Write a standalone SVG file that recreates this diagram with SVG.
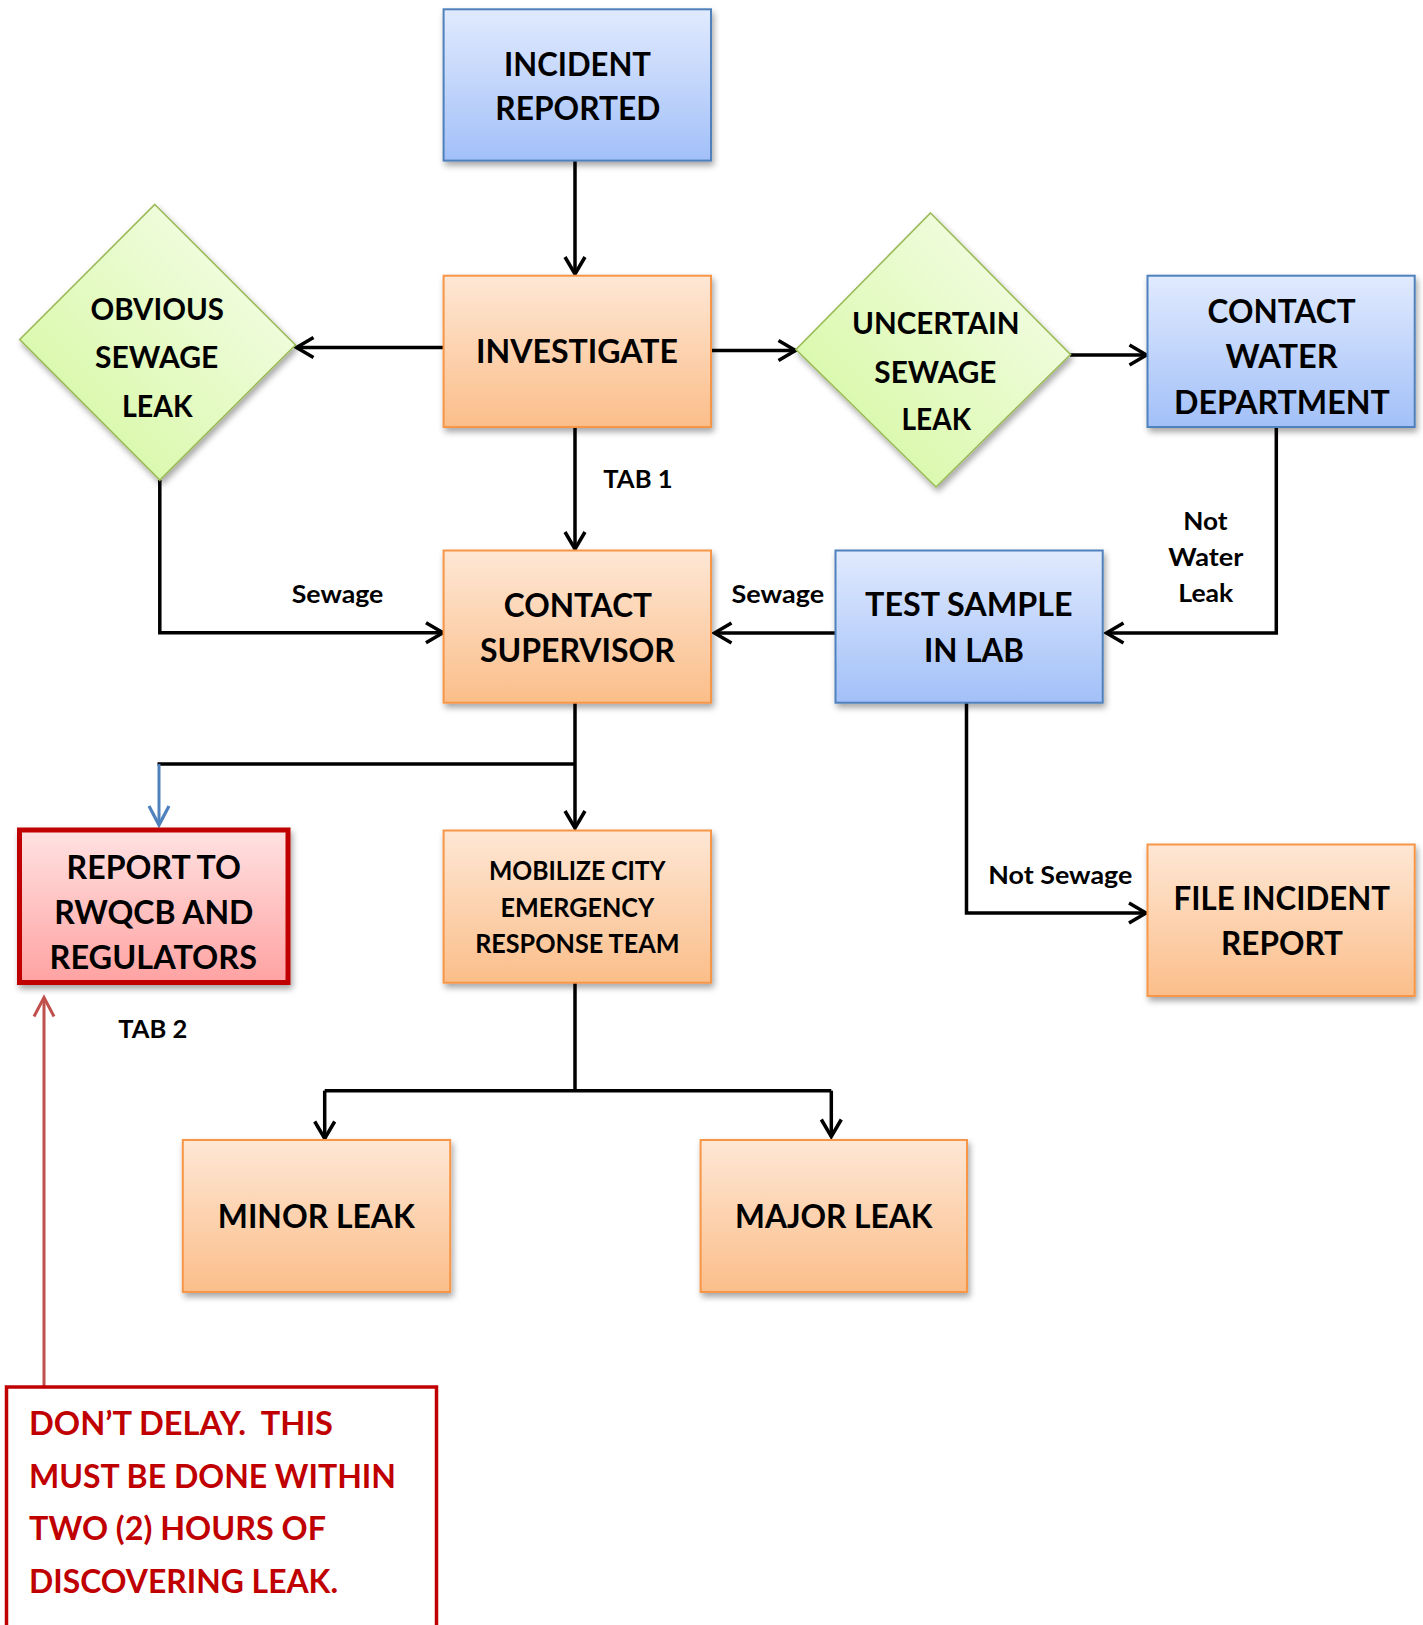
<svg xmlns="http://www.w3.org/2000/svg" width="1423" height="1625" viewBox="0 0 1423 1625">
<defs>
<linearGradient id="gBlue" x1="0" y1="0" x2="0" y2="1"><stop offset="0" stop-color="#e1eafe"/><stop offset="1" stop-color="#a2c0f8"/></linearGradient>
<linearGradient id="gOrange" x1="0" y1="0" x2="0" y2="1"><stop offset="0" stop-color="#fee7d5"/><stop offset="1" stop-color="#fbbe8a"/></linearGradient>
<linearGradient id="gGreen" x1="1" y1="0" x2="0" y2="1"><stop offset="0" stop-color="#f8fef0"/><stop offset="1" stop-color="#d2f79a"/></linearGradient>
<linearGradient id="gRed" x1="0" y1="0" x2="0" y2="1"><stop offset="0" stop-color="#ffe2e2"/><stop offset="1" stop-color="#ffa2a2"/></linearGradient>
<filter id="shadow" x="-10%" y="-10%" width="125%" height="130%"><feDropShadow dx="2" dy="4" stdDeviation="3" flood-color="#000" flood-opacity="0.35"/></filter>
<marker id="aBlack" viewBox="-22 -13 26 26" refX="0" refY="0" markerWidth="26" markerHeight="26" markerUnits="userSpaceOnUse" orient="auto"><path d="M-17,-10 L0,0 L-17,10" fill="none" stroke="#000" stroke-width="3.5"/></marker>
<marker id="aBlue" viewBox="-22 -13 26 26" refX="0" refY="0" markerWidth="26" markerHeight="26" markerUnits="userSpaceOnUse" orient="auto"><path d="M-19,-10 L0,0 L-19,10" fill="none" stroke="#4f81bd" stroke-width="3.2"/></marker>
<marker id="aRed" viewBox="-22 -13 26 26" refX="0" refY="0" markerWidth="26" markerHeight="26" markerUnits="userSpaceOnUse" orient="auto"><path d="M-19,-10 L0,0 L-19,10" fill="none" stroke="#c0504d" stroke-width="3"/></marker>
</defs>
<style>
.blue{fill:url(#gBlue);stroke:#4f81bd;stroke-width:2;filter:url(#shadow)}
.orange{fill:url(#gOrange);stroke:#f79646;stroke-width:2;filter:url(#shadow)}
.green{fill:url(#gGreen);stroke:#9bbb59;stroke-width:1.6;filter:url(#shadow)}
.redbox{fill:url(#gRed);stroke:#c00000;stroke-width:5;filter:url(#shadow)}
text{font-family:Lato,"Open Sans","Liberation Sans",sans-serif;font-weight:700;fill:#000}
.big{font-size:33px;text-anchor:middle}
.dia{font-size:30.5px;text-anchor:middle}
.mid{font-size:26px;text-anchor:middle}
.small{font-size:24.5px}
.warn{font-size:32.5px;fill:#c00000}
.c{fill:none;stroke:#000;stroke-width:3.5}
</style>

<g id="connectors">
<path class="c" d="M575 161 V274" marker-end="url(#aBlack)"/>
<path class="c" d="M443.6 347.5 H296.5" marker-end="url(#aBlack)"/>
<path class="c" d="M711 350.5 H795.5" marker-end="url(#aBlack)"/>
<path class="c" d="M1070 355 H1146.5" marker-end="url(#aBlack)"/>
<path class="c" d="M1276.3 427.5 V633 H1106.5" marker-end="url(#aBlack)"/>
<path class="c" d="M835 633 H714.5" marker-end="url(#aBlack)"/>
<path class="c" d="M159.8 480 V632.8 H443" marker-end="url(#aBlack)"/>
<path class="c" d="M575 427 V549" marker-end="url(#aBlack)"/>
<path class="c" d="M575 702.7 V828" marker-end="url(#aBlack)"/>
<path class="c" d="M575 764 H157.5"/>
<path fill="none" stroke="#4f81bd" stroke-width="3" d="M159 764 V825" marker-end="url(#aBlue)"/>
<path class="c" d="M966.5 703 V913 H1146" marker-end="url(#aBlack)"/>
<path class="c" d="M575 983 V1090.7"/>
<path class="c" d="M324.7 1090.7 H831.3"/>
<path class="c" d="M324.7 1090.7 V1138.5" marker-end="url(#aBlack)"/>
<path class="c" d="M831.3 1090.7 V1136.5" marker-end="url(#aBlack)"/>
<path fill="none" stroke="#c0504d" stroke-width="3" d="M44 1387 V997.5" marker-end="url(#aRed)"/>
</g>

<g id="incident-reported">
<rect class="blue" x="443.6" y="9.3" width="267.4" height="151.3"/>
<text class="big" x="577.5" y="76" textLength="147" lengthAdjust="spacingAndGlyphs">INCIDENT</text>
<text class="big" x="577.8" y="120" textLength="165" lengthAdjust="spacingAndGlyphs">REPORTED</text>
</g>

<g id="investigate">
<rect class="orange" x="443.6" y="275.7" width="267.4" height="151.3"/>
<text class="big" x="577" y="363" textLength="202" lengthAdjust="spacingAndGlyphs">INVESTIGATE</text>
</g>

<g id="obvious-sewage-leak">
<polygon class="green" points="154.8,204.5 295.5,345 159.8,480 19.7,339.5"/>
<text class="dia" x="157.2" y="320" textLength="133.5" lengthAdjust="spacingAndGlyphs">OBVIOUS</text>
<text class="dia" x="156.7" y="368.3" textLength="123.3" lengthAdjust="spacingAndGlyphs">SEWAGE</text>
<text class="dia" x="157.3" y="416.7" textLength="70.7" lengthAdjust="spacingAndGlyphs">LEAK</text>
</g>

<g id="uncertain-sewage-leak">
<polygon class="green" points="930.5,213 1070.5,354.5 936,487 796,349.5"/>
<text class="dia" x="935.8" y="333.6" textLength="167.5" lengthAdjust="spacingAndGlyphs">UNCERTAIN</text>
<text class="dia" x="935.4" y="382.5" textLength="122.1" lengthAdjust="spacingAndGlyphs">SEWAGE</text>
<text class="dia" x="936.2" y="430" textLength="69.5" lengthAdjust="spacingAndGlyphs">LEAK</text>
</g>

<g id="contact-water-department">
<rect class="blue" x="1147.5" y="275.7" width="267.2" height="151.3"/>
<text class="big" x="1281.6" y="323" textLength="148" lengthAdjust="spacingAndGlyphs">CONTACT</text>
<text class="big" x="1281.6" y="367.5" textLength="112" lengthAdjust="spacingAndGlyphs">WATER</text>
<text class="big" x="1281.9" y="414" textLength="215.7" lengthAdjust="spacingAndGlyphs">DEPARTMENT</text>
</g>

<g id="contact-supervisor">
<rect class="orange" x="443.6" y="550.5" width="267.4" height="152.2"/>
<text class="big" x="577.9" y="617" textLength="148.3" lengthAdjust="spacingAndGlyphs">CONTACT</text>
<text class="big" x="577.4" y="662" textLength="195" lengthAdjust="spacingAndGlyphs">SUPERVISOR</text>
</g>

<g id="test-sample-in-lab">
<rect class="blue" x="835.5" y="550.5" width="267.2" height="152.2"/>
<text class="big" x="968.8" y="616.4" textLength="207.5" lengthAdjust="spacingAndGlyphs">TEST SAMPLE</text>
<text class="big" x="974" y="662" textLength="100" lengthAdjust="spacingAndGlyphs">IN LAB</text>
</g>

<g id="report-rwqcb">
<rect class="redbox" x="19.5" y="830" width="268.5" height="152.5"/>
<text class="big" x="153.8" y="879" textLength="174.4" lengthAdjust="spacingAndGlyphs">REPORT TO</text>
<text class="big" x="153.8" y="924" textLength="199.2" lengthAdjust="spacingAndGlyphs">RWQCB AND</text>
<text class="big" x="153.3" y="968.6" textLength="207.4" lengthAdjust="spacingAndGlyphs">REGULATORS</text>
</g>

<g id="mobilize-city">
<rect class="orange" x="443.6" y="830.5" width="267.4" height="152.2"/>
<text class="mid" x="577.3" y="880" textLength="176.7" lengthAdjust="spacingAndGlyphs">MOBILIZE CITY</text>
<text class="mid" x="577.4" y="917" textLength="153.8" lengthAdjust="spacingAndGlyphs">EMERGENCY</text>
<text class="mid" x="577.3" y="952.5" textLength="204.3" lengthAdjust="spacingAndGlyphs">RESPONSE TEAM</text>
</g>

<g id="file-incident-report">
<rect class="orange" x="1147.5" y="844.5" width="267.2" height="151.5"/>
<text class="big" x="1281.8" y="910" textLength="216.5" lengthAdjust="spacingAndGlyphs">FILE INCIDENT</text>
<text class="big" x="1282" y="955" textLength="122" lengthAdjust="spacingAndGlyphs">REPORT</text>
</g>

<g id="minor-leak">
<rect class="orange" x="182.8" y="1140" width="267.4" height="152"/>
<text class="big" x="316.3" y="1228" textLength="197" lengthAdjust="spacingAndGlyphs">MINOR LEAK</text>
</g>

<g id="major-leak">
<rect class="orange" x="700.6" y="1140" width="266.4" height="152"/>
<text class="big" x="833.7" y="1228" textLength="197.4" lengthAdjust="spacingAndGlyphs">MAJOR LEAK</text>
</g>

<g id="labels">
<text class="small" x="603.3" y="487.7" textLength="69.3" lengthAdjust="spacingAndGlyphs">TAB 1</text>
<text class="small" x="291.7" y="602.7" textLength="91.7" lengthAdjust="spacingAndGlyphs">Sewage</text>
<text class="small" x="731.6" y="603" textLength="92.5" lengthAdjust="spacingAndGlyphs">Sewage</text>
<text class="small" x="1183.3" y="530.3" textLength="44.3" lengthAdjust="spacingAndGlyphs">Not</text>
<text class="small" x="1168.3" y="566" textLength="75" lengthAdjust="spacingAndGlyphs">Water</text>
<text class="small" x="1178.3" y="601.7" textLength="55" lengthAdjust="spacingAndGlyphs">Leak</text>
<text class="small" x="988.3" y="884.3" textLength="144" lengthAdjust="spacingAndGlyphs">Not Sewage</text>
<text class="small" x="118.3" y="1037.7" textLength="69" lengthAdjust="spacingAndGlyphs">TAB 2</text>
</g>

<g id="warning-callout">
<rect x="6.5" y="1387" width="430" height="260" fill="#fff" stroke="#c00000" stroke-width="3.5"/>
<text class="warn" x="29" y="1435" textLength="304" lengthAdjust="spacingAndGlyphs" xml:space="preserve">DON’T DELAY.  THIS</text>
<text class="warn" x="29" y="1488" textLength="367" lengthAdjust="spacingAndGlyphs">MUST BE DONE WITHIN</text>
<text class="warn" x="29" y="1540" textLength="297" lengthAdjust="spacingAndGlyphs">TWO (2) HOURS OF</text>
<text class="warn" x="29" y="1593" textLength="309" lengthAdjust="spacingAndGlyphs">DISCOVERING LEAK.</text>
</g>
</svg>
